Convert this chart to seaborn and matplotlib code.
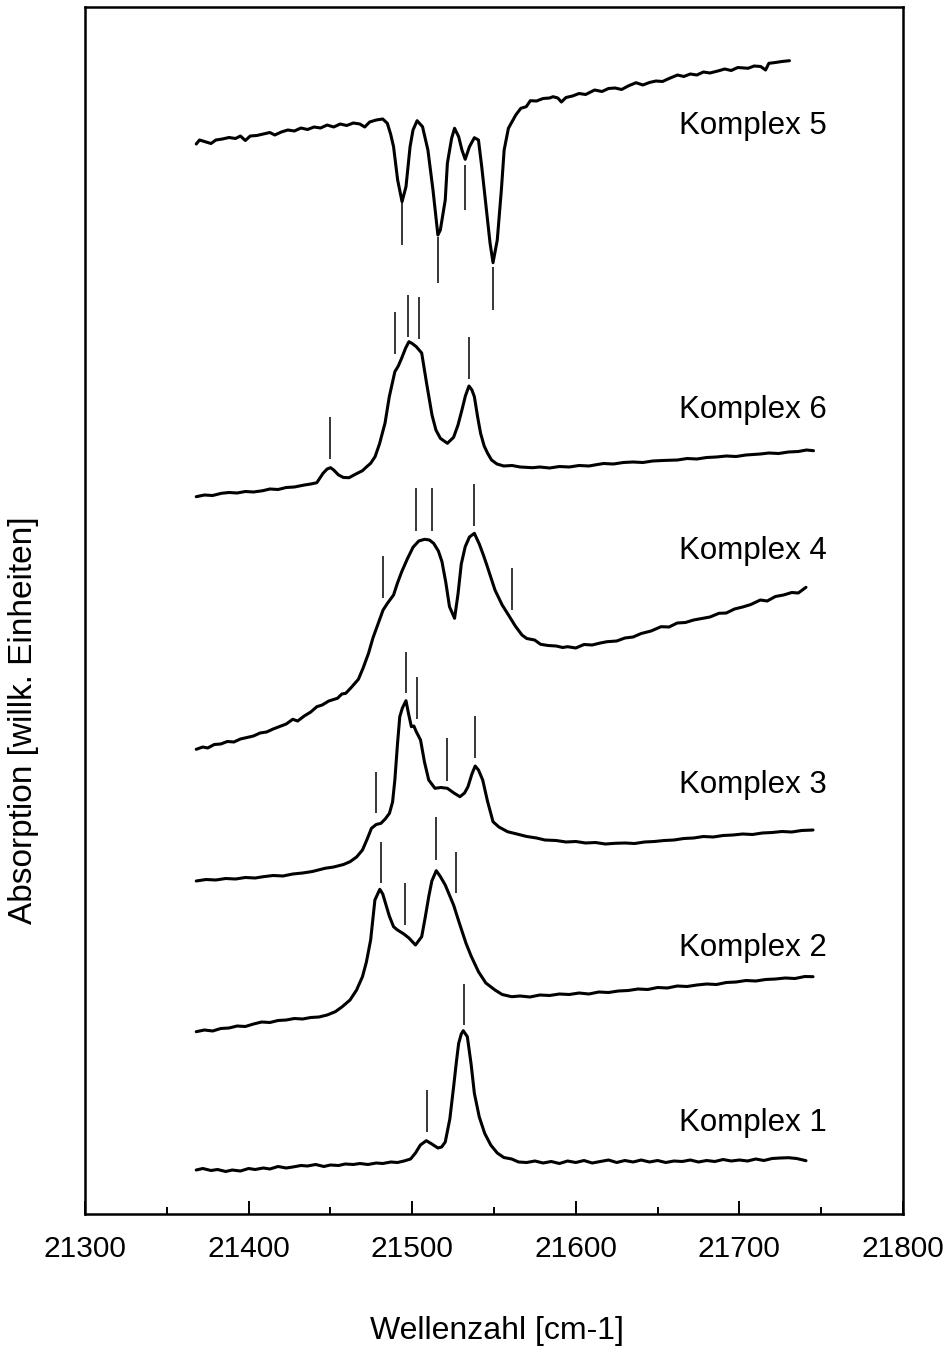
import matplotlib
matplotlib.use("Agg")
import matplotlib.pyplot as plt
import seaborn as sns
import pandas as pd

# ---------------- data (wavenumber in cm-1, absorption in arbitrary units) ----------------
k1_x = [21368, 21372, 21377, 21381, 21386, 21390, 21395, 21400, 21404, 21409, 21413, 21418, 21423, 21427,
        21432, 21436, 21441, 21446, 21450, 21455, 21459, 21464, 21468, 21473, 21478, 21482, 21487, 21491,
        21495, 21499, 21502, 21505, 21508.6, 21512, 21515.7, 21518, 21520.2, 21523, 21525.3, 21527, 21528.4,
        21530, 21531.2, 21533.7, 21536, 21538, 21541, 21544.3, 21548, 21552, 21556, 21560.8, 21565, 21570,
        21575, 21580, 21585, 21590, 21595, 21600, 21605, 21610, 21615, 21620, 21625, 21630, 21635, 21640,
        21645, 21650, 21655, 21660, 21665, 21670, 21675, 21680, 21685, 21690, 21695, 21700, 21705, 21710,
        21715, 21720, 21725, 21730, 21735, 21740.7]
k1_y = [44, 45.5, 43.5, 44.5, 42.5, 44, 43, 45.5, 44.5, 46, 45, 47.5, 46, 47,
        48.5, 48, 49.5, 47.5, 49, 48.5, 50, 49.5, 50.5, 49.5, 51, 50.5, 52, 51.5,
        53, 55, 61, 69, 73.3, 70, 66, 67, 72, 95, 127, 152, 170.7,
        180, 183.3, 177.3, 150, 120.7, 97, 80.7, 69, 61, 56.5, 55, 52, 51.5,
        53, 51, 52.5, 50.5, 53, 51.5, 53.5, 51, 52.5, 54, 51.5, 53.5, 52, 54,
        52, 53.5, 51.5, 53, 52.5, 54, 52, 53.5, 52.5, 54.5, 53, 54, 53, 55,
        53.5, 55.5, 56, 56.3, 55.5, 53.3]

k2_x = [21368, 21373, 21378, 21383, 21388, 21393, 21398, 21403, 21408, 21413, 21418, 21423, 21428, 21433,
        21438, 21443, 21448, 21453, 21457, 21462, 21466, 21469.6, 21472, 21474.6, 21477.2, 21480.2, 21482,
        21484, 21486, 21488.6, 21491, 21494.9, 21498, 21502, 21505.8, 21508, 21510.1, 21512, 21514.7, 21517,
        21520.2, 21523, 21525.3, 21529, 21532.9, 21536, 21540.5, 21545, 21550.6, 21555, 21560.8, 21566, 21572,
        21578, 21584, 21590, 21596, 21602, 21608, 21614, 21620, 21626, 21632, 21638, 21644, 21650, 21656,
        21662, 21668, 21674, 21680, 21686, 21692, 21698, 21704, 21710, 21716, 21722, 21728, 21734, 21740, 21745]
k2_y = [182.3, 184, 183, 185.5, 186, 188, 187.5, 190, 192, 191.5, 193.5, 194, 195.5, 195,
        196.5, 197, 199, 202.3, 207, 214, 224, 237.3, 252, 274, 314, 324.7, 320,
        309, 298, 287.3, 284, 280, 276, 269, 277.3, 297, 317.3, 333, 343.3, 338,
        329, 318, 309, 290, 270.7, 258, 242.3, 231, 224, 219.5, 217.3, 218, 217,
        219, 218.5, 220, 219.5, 221, 220, 222, 221.5, 223, 223.5, 225, 224.5, 226.5, 226,
        228, 227.5, 229, 230, 229.5, 231.5, 232, 233.5, 233, 234.5, 235, 236, 235.5, 237.5, 237.3]

k3_x = [21368, 21374, 21380, 21386, 21392, 21398, 21404, 21409, 21415, 21421, 21427, 21433, 21439, 21446.7,
        21452, 21458, 21462, 21466, 21469.6, 21472.5, 21475.1, 21478, 21480.9, 21483.5, 21486.1, 21488,
        21489.4, 21491, 21492.4, 21494, 21496.2, 21497.8, 21499.5, 21501, 21502.5, 21505.1, 21507.5, 21510.1,
        21513.9, 21517.5, 21521.5, 21525.5, 21529.2, 21532, 21534.1, 21536.5, 21538.5, 21540.5, 21543.1,
        21546, 21549.4, 21553, 21558.3, 21564, 21570, 21576, 21581.1, 21588, 21594, 21600, 21606, 21612,
        21618, 21624.1, 21630, 21636, 21642, 21648, 21654, 21660, 21666, 21672, 21678, 21684, 21690, 21696,
        21702, 21708, 21714, 21720, 21726, 21732, 21738, 21745]
k3_y = [333, 334.5, 334, 335.5, 335, 336.5, 336, 337.3, 338.5, 338, 340, 341, 342.5, 345.7,
        347, 349.5, 352.3, 357, 364, 375, 385.7, 389.5, 390.7, 395, 400.7, 412,
        434, 470, 497.3, 506, 513.3, 500, 487.3, 488, 482.3, 474, 452, 434,
        425.7, 426.5, 425.7, 421, 417.3, 421, 427.3, 440, 448, 444, 434,
        413, 392.3, 387, 382.3, 380, 377.5, 376, 374, 373.5, 372, 372.5, 371, 371.5,
        370, 370.7, 371, 370.5, 372, 372.5, 373.5, 374, 375.5, 376, 377.5, 377, 378.5, 379,
        380, 379.5, 381, 381.5, 382.5, 382, 383.5, 384]

k4_x = [21368, 21372, 21375, 21379, 21383, 21387, 21391, 21395, 21399, 21403, 21407, 21411, 21415, 21419,
        21423, 21427, 21430, 21434, 21438, 21441.7, 21445, 21449, 21454.3, 21457, 21459.4, 21463, 21467.1,
        21470, 21473.3, 21476, 21478.5, 21482.2, 21485, 21488.6, 21491, 21493.6, 21497, 21500.5, 21504,
        21507.6, 21510.5, 21513.1, 21516, 21518.2, 21520.5, 21522.8, 21525.9, 21528, 21530, 21532.4, 21535,
        21538, 21541, 21543.5, 21545.6, 21548, 21550.6, 21555, 21559.5, 21563, 21567.1, 21570, 21574.8,
        21578.5, 21583, 21588, 21592, 21595, 21600, 21605, 21610, 21615, 21619.1, 21625, 21630, 21635, 21640,
        21646, 21652.1, 21657, 21662, 21667, 21672, 21677, 21682, 21687.5, 21692, 21697, 21702, 21707,
        21712.8, 21717, 21722, 21727, 21732, 21736, 21740.7]
k4_y = [464.7, 467, 466, 469.5, 470, 472.5, 472, 475, 476.5, 478, 481, 482, 485, 487.5,
        490, 494.7, 493, 498, 502, 507.3, 509, 513, 515.7, 520, 520.7, 527, 534.7,
        546, 560.7, 576, 587.3, 604, 611, 619, 631, 642.3, 655, 666.7, 673,
        674.7, 674, 670.7, 663, 652.3, 632, 607.3, 595.7, 620, 650, 667.3, 677,
        680.7, 670, 659, 649, 637, 624, 609, 597.3, 588, 579, 575.5, 574,
        569.7, 568.5, 568, 566.5, 567.3, 566, 569.5, 569, 571, 572.3, 573, 576, 577, 580.5,
        583, 587.3, 587, 591, 591.5, 594, 595.5, 597, 600.7, 601, 605, 607, 609.5,
        614, 613, 617.5, 619, 621.5, 621, 626.7]

k6_x = [21368, 21373, 21378, 21383.4, 21388, 21393, 21398, 21403, 21408.7, 21413, 21418, 21423, 21428,
        21434.1, 21438, 21441.7, 21445.5, 21448, 21450.1, 21452, 21455, 21458, 21461.4, 21465, 21469.6,
        21472, 21474.6, 21477.3, 21480, 21483.4, 21486, 21489.4, 21491.5, 21493.6, 21496, 21498, 21500,
        21502.5, 21505.8, 21508.8, 21512.1, 21514.5, 21517.2, 21521.5, 21525.3, 21528, 21530.4, 21532.5,
        21534.7, 21536.5, 21538, 21540, 21541.8, 21544, 21546.1, 21548.5, 21551.8, 21556, 21561, 21566,
        21573.5, 21578, 21584, 21590, 21596, 21602, 21608, 21611.5, 21617, 21623, 21629, 21635, 21641,
        21647, 21653, 21662.2, 21668, 21674, 21680, 21686, 21692, 21698, 21704, 21712.8, 21718, 21724,
        21730, 21736, 21741, 21745.3]
k6_y = [717.3, 719, 718.5, 720.7, 721.5, 721, 722.5, 722, 723.3, 725, 724.5, 726.5, 727,
        729, 730, 731.3, 740.7, 745, 746.3, 744, 739, 736.5, 736.3, 739.5, 743.3,
        747, 750.7, 757.3, 770, 791, 817.3, 842.3, 848, 856, 866, 872.3, 870.5,
        867.3, 861, 830.7, 799, 784, 775.7, 770.7, 776.7, 789, 804, 818,
        828, 824, 817.3, 797, 780.7, 768, 760.7, 754, 750, 748, 748.5, 747,
        746.3, 747, 746, 747.5, 747, 748.5, 748, 749, 750.5, 750, 751.5, 752, 751.5,
        753, 753.5, 754, 755.5, 755, 756.5, 757, 758, 757.5, 759, 760, 761, 760.5,
        762, 762.5, 764, 763.3]

k5_x = [21368, 21370, 21374, 21377, 21380, 21384, 21388, 21392, 21395, 21398, 21401, 21405, 21409, 21413,
        21416, 21420, 21424, 21428, 21432, 21436, 21440, 21444, 21448, 21452, 21456, 21460, 21464, 21468,
        21471, 21474, 21478, 21482, 21484.8, 21486.8, 21488.6, 21491.1, 21493.8, 21496.2, 21498.7, 21500.5,
        21503, 21506.3, 21509.6, 21512.7, 21515.7, 21517.2, 21520.2, 21521.5, 21524.1, 21525.9, 21528.4,
        21530.4, 21532.4, 21535, 21538, 21540.5, 21542.5, 21545.6, 21547.6, 21549.4, 21552, 21554.5,
        21556.2, 21558.8, 21563.3, 21566.4, 21569.7, 21572.2, 21576, 21580, 21584, 21586.1, 21589, 21591.2,
        21594, 21598, 21602, 21606, 21611.5, 21616, 21620, 21624, 21628, 21632, 21636.8, 21641, 21645,
        21649, 21653, 21657, 21662.2, 21666, 21670, 21674, 21678, 21682, 21687.5, 21691, 21695, 21699,
        21703, 21705.3, 21709, 21713, 21716, 21718, 21722, 21726, 21730.6]
k5_y = [1070, 1074, 1072, 1070.5, 1074, 1075, 1076.5, 1075.5, 1078, 1073.5, 1078, 1078.5, 1080, 1081.5,
        1079, 1082, 1084, 1083, 1086, 1084.5, 1087, 1086, 1089, 1087, 1090, 1088.5, 1091, 1090,
        1087, 1092, 1094, 1095, 1090.7, 1080, 1067.3, 1034, 1012.3, 1027.3, 1067.3, 1084,
        1093.3, 1087.3, 1064, 1024, 979, 984, 1014, 1050.7, 1075.7, 1085.7, 1077.3,
        1064, 1054.7, 1067.3, 1076.3, 1074, 1047.3, 1000.7, 970.7, 951.3, 974, 1024,
        1064, 1085.7, 1099, 1105.7, 1107.3, 1113.3, 1113, 1115.5, 1116, 1117.3, 1116, 1112,
        1116.5, 1118, 1120.5, 1119.5, 1124, 1122.5, 1125.5, 1126, 1124.5, 1128, 1131.3, 1129, 1131.5,
        1133, 1132.5, 1135.5, 1139, 1137.5, 1140, 1139, 1142, 1141, 1143.3, 1145, 1143.5, 1146.5,
        1146, 1145.7, 1148, 1147.5, 1144, 1150.7, 1151.5, 1152.5, 1153.3]

# band position markers: x position, lower end, upper end
mark_x = [21493.8, 21515.8, 21532.3, 21549.4,
          21450.0, 21489.4, 21497.4, 21504.3, 21534.7,
          21482.2, 21502.5, 21511.9, 21538.0, 21560.8,
          21477.7, 21496.2, 21503.0, 21521.0, 21538.5,
          21480.7, 21495.4, 21514.6, 21527.0,
          21508.8, 21531.7]
mark_lo = [969, 931, 1004, 904,
           755, 860, 877, 875, 835,
           616, 683, 683, 688, 604,
           401, 521, 495, 433, 456,
           331, 289, 354, 321,
           82, 189]
mark_hi = [1011, 977, 1049, 947,
           797, 902, 919, 917, 877,
           658, 726, 726, 730, 646,
           442, 562, 537, 476, 498,
           372, 331, 397, 362,
           124, 230]

labels = ["Komplex 5", "Komplex 6", "Komplex 4", "Komplex 3", "Komplex 2", "Komplex 1"]
label_y = [1080, 795.7, 654.7, 420.7, 258, 83.3]

series = {"Komplex 1": (k1_x, k1_y), "Komplex 2": (k2_x, k2_y), "Komplex 3": (k3_x, k3_y),
          "Komplex 4": (k4_x, k4_y), "Komplex 5": (k5_x, k5_y), "Komplex 6": (k6_x, k6_y)}

# ---------------- plotting ----------------
sns.set_theme(style="white")
plt.rcParams["font.family"] = ["Liberation Sans", "DejaVu Sans"]

fig = plt.figure(figsize=(9.47, 13.49), dpi=100)
ax = fig.add_axes([85 / 947, 1 - 1214 / 1349, 818 / 947, 1207 / 1349])

frames = []
for name, (xs, ys) in series.items():
    frames.append(pd.DataFrame({"Wellenzahl": xs, "Absorption": ys, "Komplex": name}))
df = pd.concat(frames, ignore_index=True)

for name in series:
    sub = df[df["Komplex"] == name]
    sns.lineplot(data=sub, x="Wellenzahl", y="Absorption", ax=ax, color="black",
                 linewidth=2.2, estimator=None, sort=False, legend=False)

ax.vlines(mark_x, mark_lo, mark_hi, colors="black", linewidth=1.1)

for lab, ly in zip(labels, label_y):
    ax.text(21663, ly, lab, fontsize=22.5, ha="left", va="baseline", color="black")

ax.set_xlim(21300, 21800)
ax.set_ylim(0, 1207)
ax.set_xticks([21300, 21400, 21500, 21600, 21700, 21800])
ax.set_xticks([21350, 21450, 21550, 21650, 21750], minor=True)
ax.set_yticks([])
ax.tick_params(axis="x", which="both", direction="in", bottom=True, top=False,
               colors="black", labelsize=21.5, pad=15, width=1.4)
ax.tick_params(axis="x", which="major", length=9.4)
ax.tick_params(axis="x", which="minor", length=5)

for sp in ax.spines.values():
    sp.set_visible(True)
    sp.set_color("black")
    sp.set_linewidth(1.8)

ax.set_xlabel("Wellenzahl [cm-1]", fontsize=23, color="black")
ax.set_ylabel("Absorption [willk. Einheiten]", fontsize=24, color="black")
ax.xaxis.set_label_coords(0.503, -0.0845)
ax.yaxis.set_label_coords(-0.056, 0.409)

fig.savefig("out.png", dpi=100)
